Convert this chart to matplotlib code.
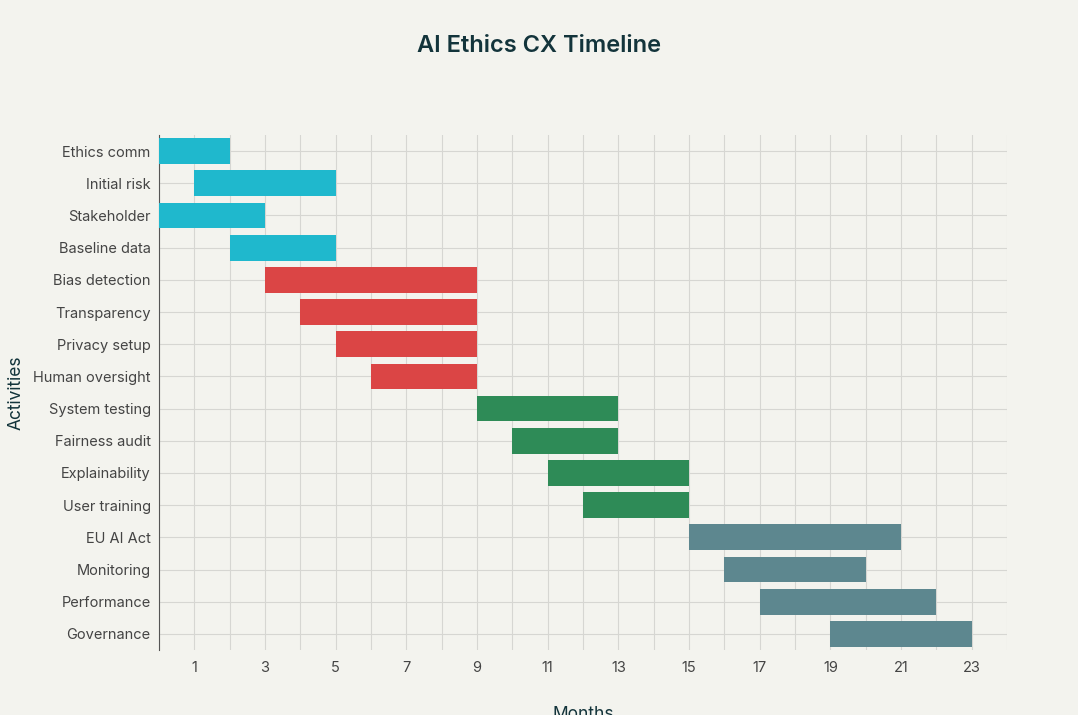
import matplotlib
matplotlib.use("Agg")
import matplotlib.pyplot as plt
plt.rcParams["font.family"] = ["Inter", "DejaVu Sans"]

activities = ["Ethics comm","Initial risk","Stakeholder","Baseline data","Bias detection","Transparency",
              "Privacy setup","Human oversight","System testing","Fairness audit","Explainability",
              "User training","EU AI Act","Monitoring","Performance","Governance"]
starts = [0,1,0,2,3,4,5,6,9,10,11,12,15,16,17,19]
ends   = [2,5,3,5,9,9,9,9,13,13,15,15,21,20,22,23]
phases = [0,0,0,0,1,1,1,1,2,2,2,2,3,3,3,3]
phase_colors = ["#1FB8CD","#DB4545","#2E8B57","#5D878F"]
xticks = [1,3,5,7,9,11,13,15,17,19,21,23]

bg = "#F3F3EE"
fig = plt.figure(figsize=(10.78,7.15), dpi=100, facecolor=bg)
ax = fig.add_axes([159/1078, 1-650/715, (1007-159)/1078, (650-135)/715], facecolor=bg)
ys = list(range(len(activities)))
for y,s,e,p in zip(ys,starts,ends,phases):
    ax.barh(y, e-s, left=s, height=0.8, color=phase_colors[p], zorder=3)
ax.set_ylim(len(activities)-0.5, -0.5)
ax.set_yticks(ys)
ax.set_yticklabels(activities, fontsize=10.5, color="#444444")
ax.set_xlim(0,24)
ax.set_xticks(xticks)
ax.set_xticks(range(0,25,2), minor=True)
ax.tick_params(axis="x", labelsize=10.5, colors="#444444", length=0, pad=8)
ax.tick_params(axis="x", which="minor", length=0)
ax.tick_params(axis="y", length=0, pad=6)
ax.grid(True, which="both", color="#D6D6D2", linewidth=0.8, zorder=0)
for sp in ["top","right","bottom"]:
    ax.spines[sp].set_visible(False)
ax.spines["left"].set_color("#555555")
ax.set_xlabel("Months", fontsize=12.5, color="#13343B", labelpad=22)
ax.set_ylabel("Activities", fontsize=12.5, color="#13343B", labelpad=6)
fig.text(0.5, 1-46/715, "AI Ethics CX Timeline", ha="center", va="center", fontsize=17, color="#13343B", fontweight="semibold")
fig.savefig("out.png", dpi=100, facecolor=bg)
